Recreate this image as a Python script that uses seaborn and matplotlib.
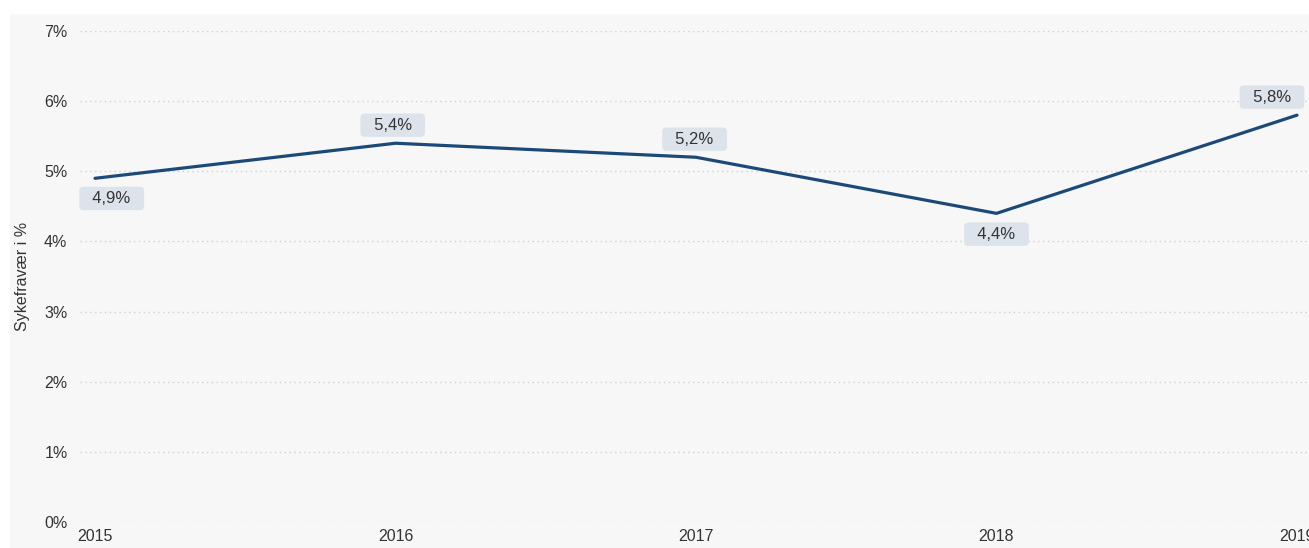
import pandas as pd
import matplotlib.pyplot as plt
import seaborn as sns
from matplotlib.patches import Rectangle

# DATA
years = [2015, 2016, 2017, 2018, 2019]
sykefravaer = [4.9, 5.4, 5.2, 4.4, 5.8]
y_ticks = [0, 1, 2, 3, 4, 5, 6, 7]
# label offsets in points (dx, dy)
label_offsets = [(12, -14.5), (-2, 13), (-1, 13), (0, -15), (-18, 13)]

panel_color = "#f7f7f7"
line_color = "#1c4a78"
text_color = "#333333"
box_color = "#dde3ea"

df = pd.DataFrame({"year": years, "value": sykefravaer})

sns.set_style("white")
plt.rcParams["font.family"] = ["Liberation Sans", "DejaVu Sans"]

fig = plt.figure(figsize=(13.09, 5.48), dpi=100, facecolor="white")
fig.patches.append(Rectangle((10 / 1309, 0), 1, 1 - 14 / 548,
                             transform=fig.transFigure, facecolor=panel_color,
                             edgecolor="none", zorder=-10))

ax = fig.add_axes([80 / 1309, 26 / 548, 1 - 80 / 1309, (522 - 31) / 548])
ax.set_facecolor("none")
ax.set_zorder(1)

sns.lineplot(data=df, x="year", y="value", color=line_color, linewidth=2.3, ax=ax)

ax.set_xlim(2014.95, 2019.04)
ax.set_ylim(0, 7)
ax.set_yticks(y_ticks)
ax.set_yticklabels([f"{t}%" for t in y_ticks])
ax.set_xticks(years)
ax.set_xticklabels([str(y) for y in years])

ax.grid(axis="y", linestyle=(0, (1, 2.5)), color="#cfcfcf", linewidth=1)
ax.grid(axis="x", visible=False)
for s in ax.spines.values():
    s.set_visible(False)

ax.tick_params(axis="y", length=0, pad=9, labelsize=11.5, labelcolor=text_color)
ax.tick_params(axis="x", length=0, pad=5, labelsize=11.5, labelcolor=text_color)

ax.set_xlabel("")
ax.set_ylabel("Sykefravær i %", fontsize=11.5, color=text_color, labelpad=10)

for x, v, (dx, dy) in zip(years, sykefravaer, label_offsets):
    ax.annotate("\u00a0\u00a0" + f"{v:.1f}%".replace(".", ",") + "\u00a0\u00a0",
                (x, v), xytext=(dx, dy),
                textcoords="offset points", ha="center", va="center",
                fontsize=12, color=text_color,
                bbox=dict(boxstyle="round,pad=0.25", facecolor=box_color,
                          edgecolor="none"))

fig.savefig("out.png", dpi=100, facecolor="white")
